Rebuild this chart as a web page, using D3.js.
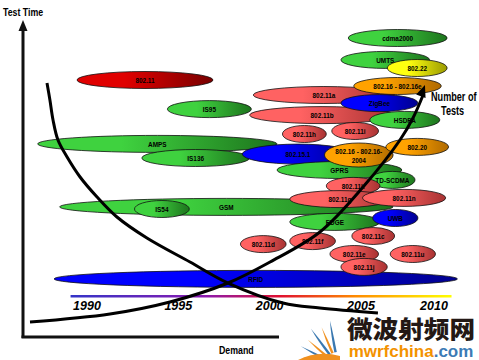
<!DOCTYPE html>
<html><head><meta charset="utf-8">
<script src="https://cdn.jsdelivr.net/npm/d3@7"></script>
<style>body{margin:0;background:#fff}svg{display:block}</style>
</head><body><svg id="c" width="479" height="360"></svg>
<script>
// ---- data ----
const yearTicks = [1990, 1995, 2000, 2005, 2010];
const techNames = ["RFID","AMPS","GSM","IS54","IS136","802.15.1","802.11","IS95","cdma2000","UMTS","802.22","802.11a","802.16 - 802.16e","802.11b","ZigBee","HSDPA","802.11h","802.11i","GPRS","802.16 - 802.16-\n2004","802.20","TD-SCDMA","802.11k","802.11g","802.11n","EDGE","UWB","802.11c","802.11d","802.11f","802.11e","802.11u","802.11j"];
const startYears = [1988.2,1987.3,1988.5,1992.6,1993.0,1998.5,1989.45,1994.4,2004.3,2003.9,2006.8,1999.1,2004.6,1998.9,2003.9,2005.6,2000.7,2003.4,2000.4,2003.0,2006.7,2005.6,2003.1,2001.1,2005.1,2001.1,2005.8,2004.5,1998.4,2001.1,2003.3,2007.0,2003.9];
const endYears   = [2011.6,2000.4,2007.2,1995.6,1998.9,2004.6,1996.9,1999.0,2010.9,2009.7,2010.9,2007.3,2010.5,2007.3,2008.9,2010.4,2003.1,2006.2,2007.8,2007.2,2011.0,2008.7,2006.3,2007.0,2010.8,2006.3,2008.9,2007.3,2000.9,2003.6,2006.2,2010.1,2006.8];
const testTime   = [13.7,58.7,37.7,37,54,55.3,80,70.3,94,86.7,84,75,78,68.3,72.3,66.7,62,63,50,55,57.7,46.7,44.7,40.3,40.7,32.7,34,28,25.3,26.3,22,22,17.7];
const families   = ["blue","green","green","green","green","blue","darkred","green","green","green","yellow","red","orange","red","blue","green","red","red","green","orange","orange","green","red","red","red","green","blue","red","red","red","red","red","red"];
// curves (year, test-time level)
const demandYears  = [1987.81,1987.97,1988.14,1988.41,1988.91,1989.62,1990.55,1991.64,1993.28,1995.64,1997.72,2000.73,2002.75,2006.16];
const demandLevels = [79,73.33,66.67,60,54.33,47.67,41,34.33,27.33,19.33,12.33,5.67,4,2.33];
const testsYears   = [1986.88,1991.26,1994.54,1997.72,2000.02,2002.75,2005.14,2007.67,2008.56,2009.38];
const testsLevels  = [-0.67,2,6,12.33,19.33,29.33,44.33,60,67.33,78.33];

// ---- drawing ----
const svg = d3.select("#c");
const x = d3.scaleLinear().domain([1990, 2005, 2010]).range([87, 361, 434]);
const y = d3.scaleLinear().domain([0, 100]).range([320, 20]);

const palette = {
  green:["#3fd23f","#1d741d"], red:["#ff6262","#a83232"], darkred:["#e00000","#780000"],
  blue:["#0000ff","#000090"], orange:["#ffa200","#b06a00"], yellow:["#ffff10","#9a9a00"]
};
const defs = svg.append("defs");
Object.entries(palette).forEach(([k,[c0,c1]])=>{
  const g = defs.append("linearGradient").attr("id","g-"+k).attr("x1",0).attr("x2",1).attr("y1",0).attr("y2",0);
  g.append("stop").attr("offset","0%").attr("stop-color",c0);
  g.append("stop").attr("offset","35%").attr("stop-color",c0);
  g.append("stop").attr("offset","100%").attr("stop-color",c1);
});
const yl = defs.append("linearGradient").attr("id","yearline").attr("x1",0).attr("x2",1).attr("y1",0).attr("y2",0);
[["0%","#3434c8"],["35%","#8a1ab0"],["55%","#e01030"],["75%","#ff8c00"],["100%","#ffff00"]].forEach(([o,c])=>yl.append("stop").attr("offset",o).attr("stop-color",c));

// axes
svg.append("line").attr("x1",23).attr("x2",23).attr("y1",338).attr("y2",28).attr("stroke","#111").attr("stroke-width",3);
svg.append("path").attr("d","M23,20 L27.5,31 L18.5,31 Z").attr("fill","#111");
svg.append("line").attr("x1",21.5).attr("x2",279).attr("y1",337).attr("y2",337).attr("stroke","#111").attr("stroke-width",3);

// year line + labels
const yr0 = 1989.1, yr1 = 2011.2;
svg.append("rect").attr("x",x(yr0)).attr("y",295).attr("width",x(yr1)-x(yr0)).attr("height",2.5).attr("fill","url(#yearline)");
svg.selectAll(".yt").data(yearTicks).join("text")
  .attr("x",d=>x(d)).attr("y",310).attr("text-anchor","middle")
  .attr("font-family","Liberation Sans, Arial, sans-serif").attr("font-weight","bold").attr("font-style","italic")
  .attr("font-size",12.5).attr("fill","#000").text(d=>d);

// ellipses
const items = techNames.map((n,i)=>({n, s:startYears[i], e:endYears[i], t:testTime[i], f:families[i]}));
const gE = svg.append("g");
items.forEach(d=>{
  const cx = (x(d.s)+x(d.e))/2, rx = (x(d.e)-x(d.s))/2, cy = y(d.t);
  const ry = d.n.includes("\n") ? 12 : (d.n==="802.15.1" ? 10 : 8.5);
  gE.append("ellipse").attr("cx",cx).attr("cy",cy).attr("rx",rx).attr("ry",ry)
    .attr("fill",`url(#g-${d.f})`).attr("stroke","#111").attr("stroke-width",0.8);
  const lines = d.n.split("\n");
  const tg = gE.append("g").attr("transform",`translate(${cx},${cy}) scale(0.8,1)`);
  const tx = tg.append("text").attr("x",0).attr("y",-(lines.length-1)*4.5)
    .attr("text-anchor","middle").attr("dominant-baseline","central")
    .attr("font-family","Liberation Sans, Arial, sans-serif")
    .attr("font-weight","bold").attr("font-size",8).attr("fill","#000");
  lines.forEach((l,j)=>tx.append("tspan").attr("x",0).attr("dy",j?9:0).text(l));
});

// curves
const line = d3.line().x(d=>x(d[0])).y(d=>y(d[1])).curve(d3.curveCatmullRom.alpha(0.5));
svg.append("path").attr("d",line(demandYears.map((v,i)=>[v,demandLevels[i]])))
  .attr("fill","none").attr("stroke","#000").attr("stroke-width",3);
const tp = testsYears.map((v,i)=>[v,testsLevels[i]]);
svg.append("path").attr("d",line(tp.slice(0,-1).concat([[tp[tp.length-1][0]-0.1,tp[tp.length-1][1]-3]])))
  .attr("fill","none").attr("stroke","#000").attr("stroke-width",3);
// arrow head
{
  const [a,b] = [tp[tp.length-2], tp[tp.length-1]];
  const X1=x(a[0]),Y1=y(a[1]),X2=x(b[0]),Y2=y(b[1]);
  const ang=Math.atan2(Y2-Y1,X2-X1), L=12, W=5;
  const bx=X2-L*Math.cos(ang), by=Y2-L*Math.sin(ang);
  svg.append("path").attr("d",`M${X2},${Y2} L${bx+W*Math.sin(ang)},${by-W*Math.cos(ang)} L${bx-W*Math.sin(ang)},${by+W*Math.cos(ang)} Z`).attr("fill","#000");
}

// titles (condensed via horizontal scale)
const tf = "Liberation Sans, Arial, sans-serif";
function title(txt, tx, ty, fs, sx){
  svg.append("g").attr("transform",`translate(${tx},${ty}) scale(${sx},1)`)
    .append("text").attr("x",0).attr("y",0)
    .attr("font-family",tf).attr("font-weight","bold").attr("font-size",fs).text(txt);
}
title("Test Time", 3, 16, 11, 0.8);
title("Number of", 431, 101, 12, 0.76);
title("Tests", 441, 115, 12, 0.76);
title("Demand", 219, 354, 11, 0.8);

// watermark
const wm = svg.append("g");
const rays = [[100,46,"#3a78b0"],[113,42,"#f0901e"],[126,46,"#3a78b0"],[139,40,"#f0901e"],[152,42,"#3a78b0"],[166,36,"#f0901e"]];
const cxw=338, cyw=366;
rays.forEach(([deg,len,col])=>{
  const r=deg*Math.PI/180, w=0.09;
  const p=(a,l)=>[cxw+l*Math.cos(a), cyw-l*Math.sin(a)];
  const [ax,ay]=p(r-w,14),[bx,by]=p(r,len),[cx2,cy2]=p(r+w,14);
  wm.append("path").attr("d",`M${ax},${ay} Q${p(r-0.03,len*0.7)} ${bx},${by} Q${p(r+0.05,len*0.7)} ${cx2},${cy2} Z`).attr("fill",col);
});
wm.append("path").attr("d","M298,360 Q318,350 340,356 L340,360 Z").attr("fill","#f0901e");
wm.append("text").attr("x",411).attr("y",338).attr("text-anchor","middle")
  .attr("font-family","Noto Sans CJK SC, sans-serif").attr("font-weight",900).attr("font-size",24)
  .attr("textLength",128).attr("lengthAdjust","spacingAndGlyphs").attr("fill","#231815").text("微波射频网");
const t2 = wm.append("text").attr("x",411).attr("y",357).attr("text-anchor","middle")
  .attr("font-family","Liberation Sans, Arial, sans-serif").attr("font-weight","bold").attr("font-size",17);
t2.append("tspan").attr("fill","#f39200").text("mwrfchina");
t2.append("tspan").attr("fill","#3c7bb5").text(".com");
</script></body></html>
